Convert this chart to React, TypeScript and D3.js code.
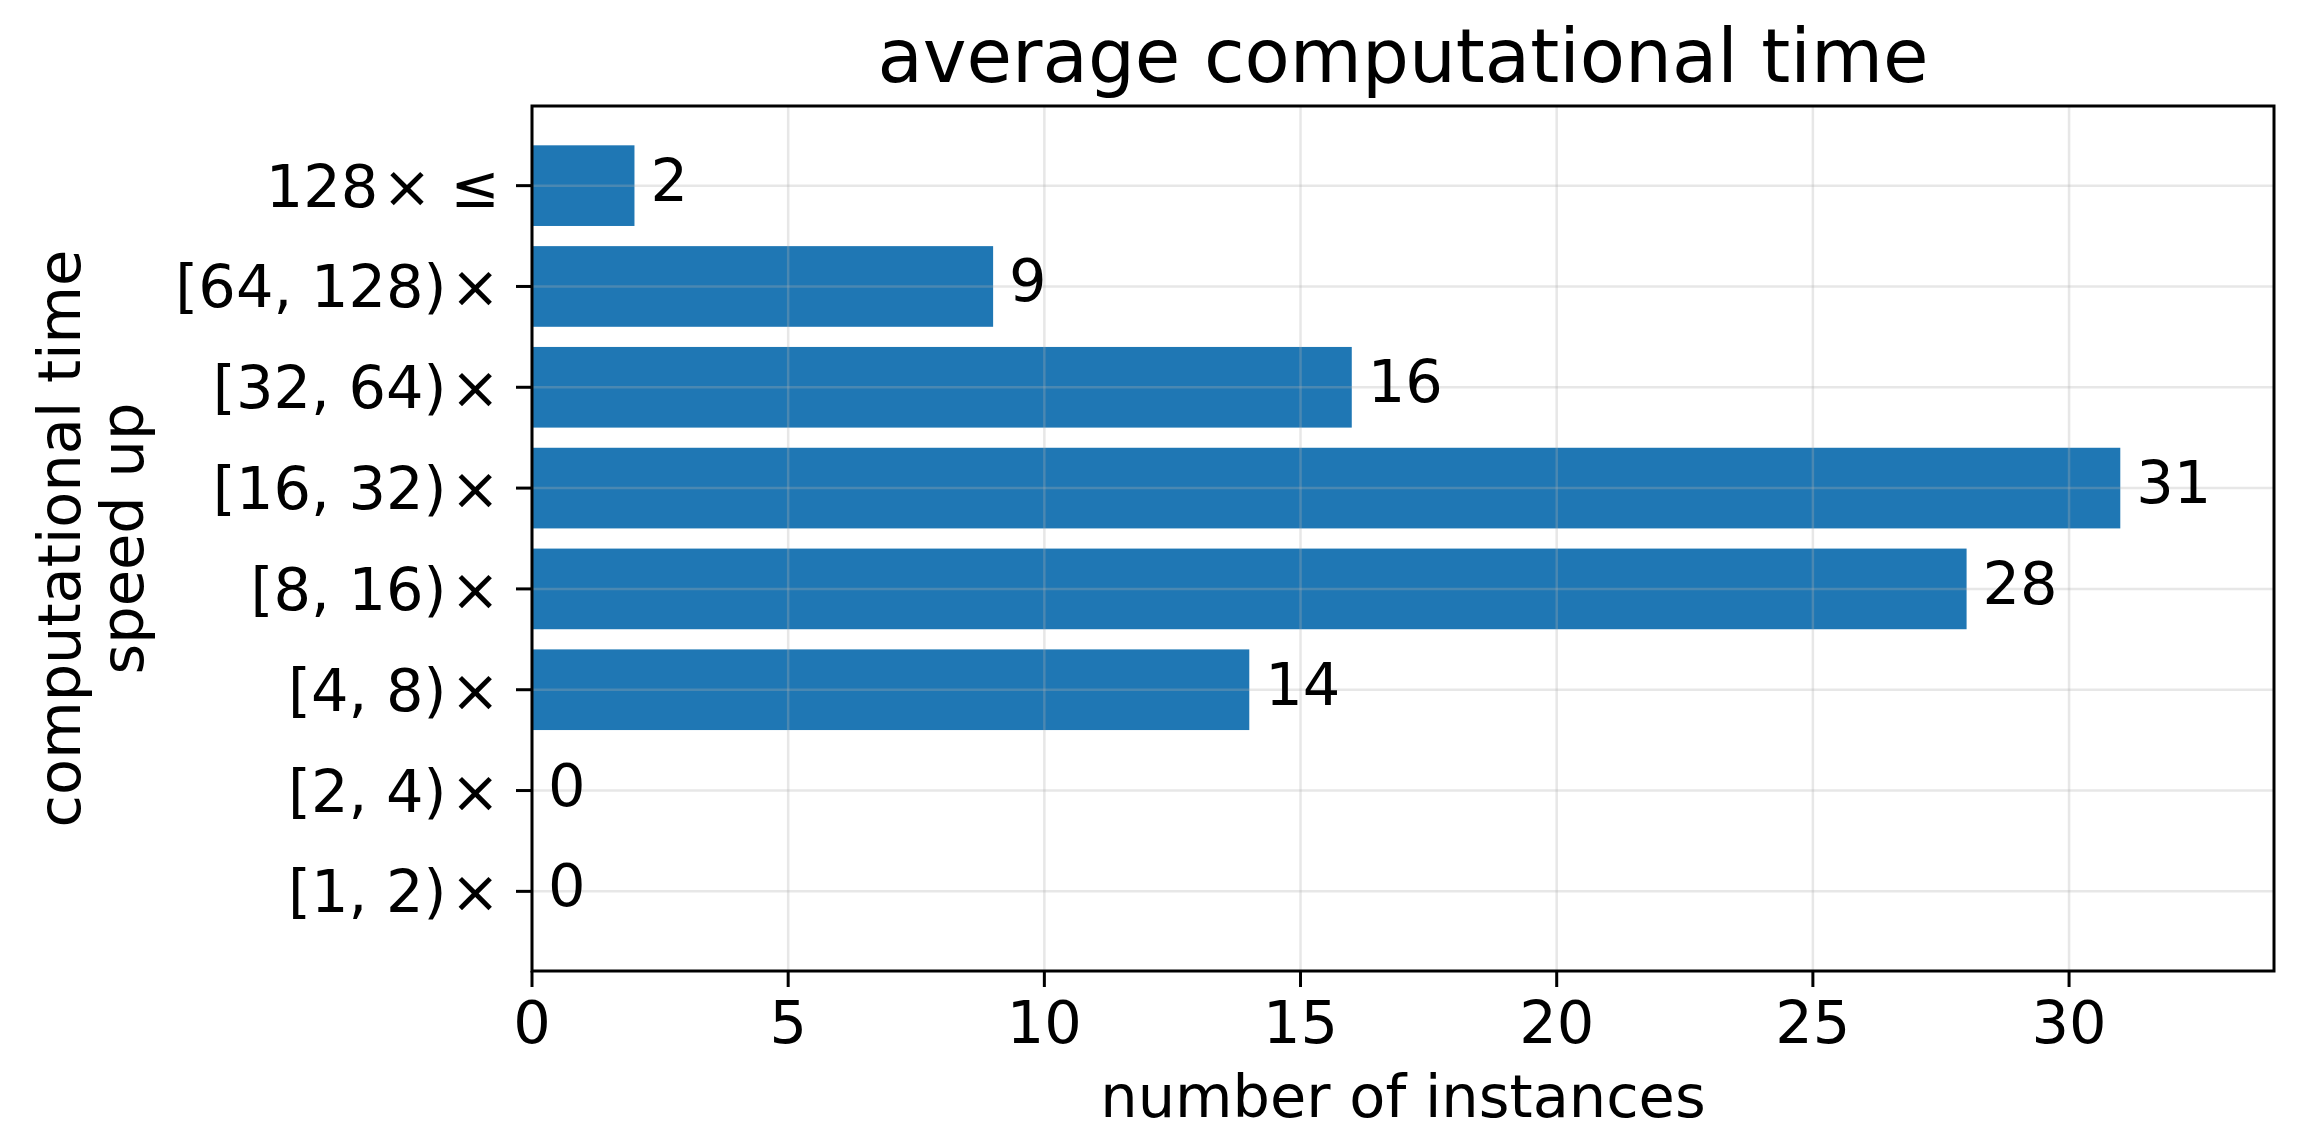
import React from "react";
import * as d3 from "d3";

const categories = ["[1, 2)", "[2, 4)", "[4, 8)", "[8, 16)", "[16, 32)", "[32, 64)", "[64, 128)", "128"];
const suffixes = ["×", "×", "×", "×", "×", "×", "×", "× ≤"];
const counts = [0, 0, 14, 28, 31, 16, 9, 2];
const xTicks = [0, 5, 10, 15, 20, 25, 30];
const title = "average computational time";
const xLabel = "number of instances";
const yLabelLines = ["computational time", "speed up"];

const W = 2303;
const H = 1142;
const left = 532;
const right = 2274;
const top = 106;
const bottom = 971;
const FONT = "DejaVu Sans";

export default function App() {
  const x = d3.scaleLinear().domain([0, 34]).range([left, right]);
  const y = d3.scaleLinear().domain([-0.79, 7.79]).range([bottom, top]);
  const barH = y(0) - y(0.8);
  const yIdx = d3.range(categories.length);
  const cx = (left + right) / 2;
  const cy = (top + bottom) / 2;
  const gridColor = "rgba(176,176,176,0.3)";

  return (
    <svg
      width={W}
      height={H}
      viewBox={`0 0 ${W} ${H}`}
      style={{ position: "absolute", left: 0, top: 0, background: "#fff" }}
      fontFamily={FONT}
    >
      <rect x={0} y={0} width={W} height={H} fill="#fff" />
      {/* bars */}
      {counts.map((v, i) => (
        <rect
          key={"b" + i}
          x={x(0)}
          y={y(i) - barH / 2}
          width={x(v) - x(0)}
          height={barH}
          fill="#1f77b4"
        />
      ))}
      {/* grid */}
      {xTicks.map((t) => (
        <line key={"gx" + t} x1={x(t)} x2={x(t)} y1={top} y2={bottom} stroke={gridColor} strokeWidth={2.5} />
      ))}
      {yIdx.map((i) => (
        <line key={"gy" + i} x1={left} x2={right} y1={y(i)} y2={y(i)} stroke={gridColor} strokeWidth={2.5} />
      ))}
      {/* bar labels */}
      {counts.map((v, i) => (
        <text key={"l" + i} x={x(v) + 16} y={y(i) + 15} fontSize={59} fill="#000">
          {v}
        </text>
      ))}
      {/* spines */}
      <rect x={left} y={top} width={right - left} height={bottom - top} fill="none" stroke="#000" strokeWidth={3} />
      {/* x ticks */}
      {xTicks.map((t) => (
        <g key={"xt" + t}>
          <line x1={x(t)} x2={x(t)} y1={bottom} y2={bottom + 16} stroke="#000" strokeWidth={3} />
          <text x={x(t)} y={1043} fontSize={59} textAnchor="middle" fill="#000">
            {t}
          </text>
        </g>
      ))}
      {/* y ticks */}
      {yIdx.map((i) => (
        <g key={"yt" + i}>
          <line x1={left - 16} x2={left} y1={y(i)} y2={y(i)} stroke="#000" strokeWidth={3} />
          <text
            x={500}
            y={y(i) + 21}
            fontSize={59}
            textAnchor="end"
            fill="#000"
            style={{ whiteSpace: "pre" }}
          >
            {categories[i]}
            <tspan dx={4}>{suffixes[i]}</tspan>
          </text>
        </g>
      ))}
      {/* title */}
      <text x={cx} y={82} fontSize={74} textAnchor="middle" fill="#000">
        {title}
      </text>
      {/* x label */}
      <text x={cx} y={1117} fontSize={59} textAnchor="middle" fill="#000">
        {xLabel}
      </text>
      {/* y label */}
      {yLabelLines.map((s, k) => (
        <text
          key={"yl" + k}
          transform={`translate(${80 + k * 63},${cy}) rotate(-90)`}
          fontSize={59}
          textAnchor="middle"
          fill="#000"
        >
          {s}
        </text>
      ))}
    </svg>
  );
}
